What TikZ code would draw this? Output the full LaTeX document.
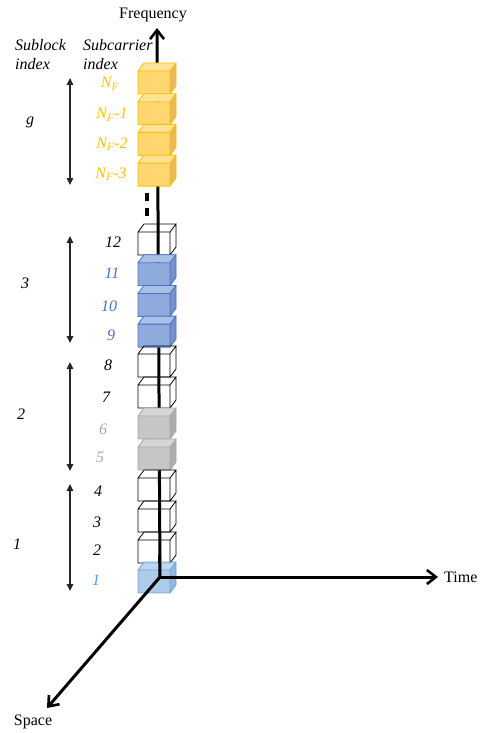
\documentclass[tikz,border=0pt]{standalone}
\usepackage{fontspec}
\setmainfont{Liberation Serif}
\usetikzlibrary{arrows.meta}
\definecolor{orB}{HTML}{FFC000}
\definecolor{orF}{HTML}{FFD670}
\definecolor{orT}{HTML}{FFE29A}
\definecolor{orS}{HTML}{E8B85A}
\definecolor{blB}{HTML}{4472C4}
\definecolor{blF}{HTML}{8FAADC}
\definecolor{blT}{HTML}{AABEE6}
\definecolor{blS}{HTML}{7690C8}
\definecolor{grB}{HTML}{A6A6A6}
\definecolor{grF}{HTML}{C6C6C6}
\definecolor{grT}{HTML}{D6D6D6}
\definecolor{grS}{HTML}{ADADAD}
\definecolor{lbB}{HTML}{5B9BD5}
\definecolor{lbF}{HTML}{9DC3E6}
\definecolor{lbT}{HTML}{B4D0EE}
\definecolor{lbS}{HTML}{7FAEDC}
\definecolor{arrC}{HTML}{262626}
\newcommand\mycube[5]{%
  \fill[#2] (138,#1) rectangle (170,#1+23);
  \fill[#3] (138,#1) -- (144,#1-8) -- (176,#1-8) -- (170,#1) -- cycle;
  \fill[#4] (170,#1) -- (176,#1-8) -- (176,#1+15) -- (170,#1+23) -- cycle;
  \draw[#5,line width=0.8pt,line join=miter] (138,#1) rectangle (170,#1+23)
    (138,#1) -- (144,#1-8) -- (176,#1-8) -- (170,#1)
    (176,#1-8) -- (176,#1+15) -- (170,#1+23);
}
\newcommand\mywcube[1]{%
  \draw[line width=0.8pt] (138,#1) rectangle (170,#1+23)
    (138,#1) -- (144,#1-8) -- (176,#1-8) -- (170,#1)
    (176,#1-8) -- (176,#1+15) -- (170,#1+23);
}
\tikzset{
  txt/.style={font=\fontsize{16}{19}\selectfont, inner sep=0pt},
  itx/.style={txt, font=\fontsize{16}{19}\selectfont\itshape},
  axis/.style={line width=3pt, -{Straight Barb[length=9pt,width=14pt,line width=2.6pt]}},
  subarrow/.style={arrC, line width=1.1pt, {Triangle[length=7pt,width=6.5pt]}-{Triangle[length=7pt,width=6.5pt]}},
}
\begin{document}
\begin{tikzpicture}[x=1pt,y=-1pt]
\useasboundingbox (0,0) rectangle (482,733);
\coordinate (O) at (160,577);
\coordinate (Ftip) at (157,28);
\coordinate (Ttip) at (438,577);
\coordinate (Stip) at (47,708);
% vertical axis (behind filled cubes)
\draw[axis] (O) -- (Ftip);
% dashes
\coordinate (d1) at (147,193);
\coordinate (d2) at (147,217);
\draw[line width=3.5pt, dash pattern=on 8pt off 7pt] (d1) -- (d2);
% orange cubes
\foreach \k in {0,1,2,3} {\mycube{71+30.7*\k}{orF}{orT}{orS}{orB}}
% cube 12
\mywcube{232}
% blue cubes 11,10,9
\foreach \k in {1,2,3} {\mycube{232+30.7*\k}{blF}{blT}{blS}{blB}}
% white cubes 8,7 and gray 6,5
\foreach \yy in {354,385} {\mywcube{\yy}}
\foreach \yy in {416,447} {\mycube{\yy}{grF}{grT}{grS}{grB}}
% white cubes 4,3,2
\foreach \yy in {478,509,540} {\mywcube{\yy}}
% cube 1 translucent
\begin{scope}[opacity=0.85]
\mycube{570}{lbF}{lbT}{lbS}{lbB}
\end{scope}
% axes on top
\draw[line width=3pt] (O) -- (159.6,555);
\draw[axis] (O) -- (Ttip);
\draw[axis] (O) -- (Stip);
\node[txt] (freq) at (153,15) {Frequency};
\node[txt, anchor=west] (time) at (444,577) {Time};
\node[txt] (space) at (33,722) {Space};
% headers
\node[itx, anchor=west, align=left] (subl) at (15,55) {Sublock\\index};
\node[itx, anchor=west, align=left] (subc) at (83,55) {Subcarrier\\index};
% subcarrier labels
\node[itx, text=orB] (nf) at (110,84) {N\textsubscript{F}};
\node[itx, text=orB] (nf1) at (112,115) {N\textsubscript{F}-1};
\node[itx, text=orB] (nf2) at (112,144) {N\textsubscript{F}-2};
\node[itx, text=orB] (nf3) at (111,174) {N\textsubscript{F}-3};
\node[itx] (l12) at (113,242) {12};
\node[itx, text=blB] (l11) at (112,273) {11};
\node[itx, text=blB] (l10) at (109,306) {10};
\node[itx, text=blB] (l9) at (111,335) {9};
\node[itx] (l8) at (108,365) {8};
\node[itx] (l7) at (106,397) {7};
\node[itx, text=grB] (l6) at (103,429) {6};
\node[itx, text=grB] (l5) at (100,457) {5};
\node[itx] (l4) at (98,491) {4};
\node[itx] (l3) at (97,522) {3};
\node[itx] (l2) at (97,550) {2};
\node[itx, text=lbB] (l1) at (96,580) {1};
% sublock arrows
\coordinate (ga) at (70,78); \coordinate (gb) at (70,185);
\coordinate (a3) at (70,236); \coordinate (b3) at (70,343);
\coordinate (a2) at (70,362); \coordinate (b2) at (70,471);
\coordinate (a1) at (70,484); \coordinate (b1) at (70,591);
\draw[subarrow] (ga) -- (gb);
\draw[subarrow] (a3) -- (b3);
\draw[subarrow] (a2) -- (b2);
\draw[subarrow] (a1) -- (b1);
\node[itx] (sg) at (30,122) {g};
\node[itx] (s3) at (25,283) {3};
\node[itx] (s2) at (21,414) {2};
\node[itx] (s1) at (17,544) {1};
\end{tikzpicture}
\end{document}
